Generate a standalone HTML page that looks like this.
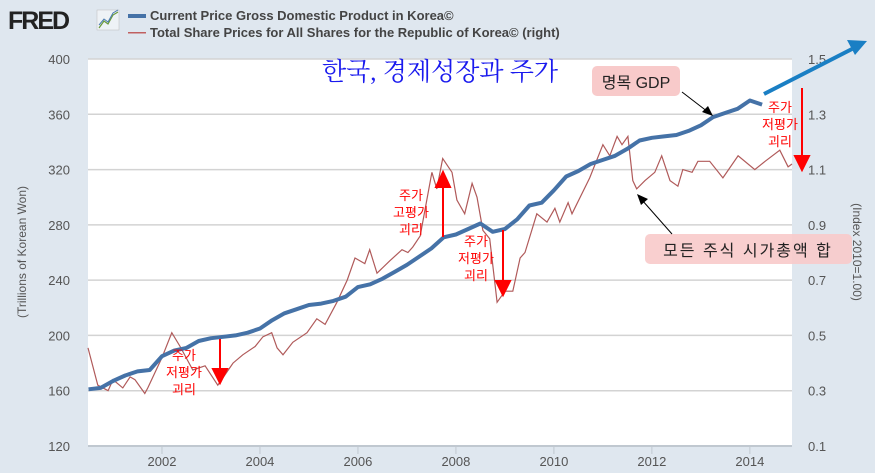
<!DOCTYPE html>
<html><head><meta charset="utf-8">
<style>
body{margin:0;background:#dfe7ef;}
svg{display:block;font-family:"Liberation Sans","Noto Sans CJK KR",sans-serif;}
</style></head>
<body>
<svg id="c" width="875" height="473" viewBox="0 0 875 473">
<rect x="0" y="0" width="875" height="473" fill="#dfe7ef"/>
<rect x="88" y="59" width="704" height="387" fill="#ffffff"/>
<g>
<text x="8" y="29" font-size="25" font-weight="bold" fill="#222" letter-spacing="-2" font-family="Liberation Sans,sans-serif">FRED</text>
<rect x="97" y="10" width="22" height="20" fill="#eef2f6" stroke="#bbb" stroke-width="0.5"/>
<polyline points="99,28 104,21 108,24 113,15 118,12" fill="none" stroke="#6a9a3a" stroke-width="1.2"/>
<polyline points="99,25 104,19 108,22 113,13 118,10" fill="none" stroke="#4a7ab0" stroke-width="1"/>
</g>
<g>
<rect x="128" y="14" width="18" height="4" fill="#4572a7"/>
<text x="150" y="20" font-size="13" font-weight="bold" fill="#444">Current Price Gross Domestic Product in Korea©</text>
<rect x="128" y="32" width="18" height="1.5" fill="#c06060"/>
<text x="150" y="37" font-size="13" font-weight="bold" fill="#444">Total Share Prices for All Shares for the Republic of Korea© (right)</text>
</g>
<g id="grid"></g>
<g id="axes"></g>
<text transform="translate(26,252) rotate(-90)" text-anchor="middle" font-size="12" fill="#555">(Trillions of Korean Won)</text>
<text transform="translate(853,252) rotate(90)" text-anchor="middle" font-size="12" fill="#555">(Index 2010=1.00)</text>
<g id="series"></g>
<g>
<text x="440" y="80" text-anchor="middle" font-size="25" fill="#1a1aee" font-family="Liberation Serif,'Noto Serif CJK SC',serif">한국, 경제성장과 주가</text>
<rect x="592" y="66" width="88" height="30" rx="5" fill="#f8caca"/>
<text x="636" y="88" text-anchor="middle" font-size="16" fill="#222">명목 GDP</text>
<line x1="682" y1="92" x2="708" y2="112" stroke="#000" stroke-width="1"/>
<polygon points="713,116 702,112 708,106" fill="#000"/>
<rect x="645" y="234" width="207" height="30" rx="5" fill="#f8caca" opacity="0.9"/>
<text x="748" y="256" text-anchor="middle" font-size="16" fill="#222" letter-spacing="2">모든 주식 시가총액 합</text>
<line x1="672" y1="234" x2="642" y2="200" stroke="#000" stroke-width="1"/>
<polygon points="637,194 648,199 641,205" fill="#000"/>
<line x1="764" y1="94" x2="852" y2="49" stroke="#1a7fc4" stroke-width="4"/>
<polygon points="867,41 847,40 855,55" fill="#1a7fc4"/>
<g fill="#ff0000" font-size="13" text-anchor="middle">
<text x="184" y="360">주가</text><text x="184" y="377">저평가</text><text x="184" y="394">괴리</text>
<text x="411" y="200">주가</text><text x="411" y="217">고평가</text><text x="411" y="234">괴리</text>
<text x="476" y="246">주가</text><text x="476" y="263">저평가</text><text x="476" y="280">괴리</text>
<text x="780" y="112">주가</text><text x="780" y="129">저평가</text><text x="780" y="146">괴리</text>
</g>
<g stroke="#ff0000" stroke-width="2" fill="#ff0000">
<line x1="220" y1="339" x2="220" y2="372"/><polygon points="213,369 227,369 220,383"/>
<line x1="443" y1="237" x2="443" y2="185"/><polygon points="436,187 450,187 443,172"/>
<line x1="503" y1="230" x2="503" y2="283"/><polygon points="496,281 510,281 503,295"/>
<line x1="802" y1="88" x2="802" y2="158"/><polygon points="795,156 809,156 802,170"/>
</g>
</g>
</svg>
<script>
const gdpYears=[2000.5,2000.75,2001,2001.25,2001.5,2001.75,2002,2002.25,2002.5,2002.75,2003,2003.25,2003.5,2003.75,2004,2004.25,2004.5,2004.75,2005,2005.25,2005.5,2005.75,2006,2006.25,2006.5,2006.75,2007,2007.25,2007.5,2007.75,2008,2008.25,2008.5,2008.75,2009,2009.25,2009.5,2009.75,2010,2010.25,2010.5,2010.75,2011,2011.25,2011.5,2011.75,2012,2012.25,2012.5,2012.75,2013,2013.25,2013.5,2013.75,2014,2014.25];
const gdpValues=[161,162,167,171,174,175,185,189,191,196,198,199,200,202,205,211,216,219,222,223,225,228,235,237,241,246,251,257,263,271,273,277,281,275,277,284,294,296,305,315,319,324,327,330,335,341,343,344,345,348,352,358,361,364,370,367];
const shareYears=[2000.49,2000.69,2000.9,2001.0,2001.2,2001.35,2001.45,2001.65,2001.71,2002.0,2002.2,2002.37,2002.63,2002.88,2003.14,2003.45,2003.65,2003.9,2004.06,2004.24,2004.35,2004.47,2004.67,2004.96,2005.16,2005.33,2005.57,2005.78,2005.94,2006.14,2006.24,2006.39,2006.65,2006.9,2007.02,2007.12,2007.27,2007.51,2007.61,2007.73,2007.92,2008.02,2008.18,2008.33,2008.43,2008.55,2008.69,2008.84,2009.0,2009.16,2009.31,2009.41,2009.65,2009.86,2010.02,2010.12,2010.29,2010.37,2010.73,2011.0,2011.14,2011.29,2011.39,2011.51,2011.61,2011.69,2011.86,2012.06,2012.2,2012.37,2012.53,2012.63,2012.82,2012.94,2013.18,2013.45,2013.76,2014.1,2014.31,2014.61,2014.78,2014.86];
const shareValues=[0.455,0.32,0.30,0.34,0.31,0.35,0.34,0.29,0.31,0.42,0.51,0.46,0.375,0.39,0.32,0.40,0.43,0.46,0.495,0.51,0.455,0.43,0.475,0.51,0.56,0.54,0.62,0.70,0.78,0.76,0.81,0.725,0.77,0.81,0.80,0.82,0.86,1.09,1.03,1.14,1.09,0.99,0.94,1.05,1.00,0.88,0.85,0.62,0.66,0.66,0.78,0.80,0.94,0.91,0.96,0.91,0.98,0.94,1.07,1.19,1.15,1.22,1.19,1.22,1.06,1.03,1.06,1.09,1.15,1.06,1.04,1.10,1.09,1.13,1.13,1.07,1.15,1.10,1.13,1.17,1.11,1.12];
const leftTicks=[120,160,200,240,280,320,360,400];
const rightTicks=["0.1","0.3","0.5","0.7","0.9","1.1","1.3","1.5"];
const xTicks=[2002,2004,2006,2008,2010,2012,2014];

const X0=88,X1=792,Y0=446,Y1=59,yr0=2000.49,yr1=2014.86;
const xs=y=>X0+(y-yr0)/(yr1-yr0)*(X1-X0);
const yL=v=>Y0-(v-120)/(400-120)*(Y0-Y1);
const yR=v=>Y0-(v-0.1)/(1.5-0.1)*(Y0-Y1);
const NS="http://www.w3.org/2000/svg";
function mk(tag,parent,attrs){const e=document.createElementNS(NS,tag);for(const k in attrs)e.setAttribute(k,attrs[k]);parent.appendChild(e);return e;}
const grid=document.getElementById('grid'),axes=document.getElementById('axes'),series=document.getElementById('series');
leftTicks.forEach((v,i)=>{
  const y=yL(v);
  const g=mk('line',grid,{x1:X0,x2:X1,y1:y,y2:y,stroke:'#d3d3d3','stroke-width':1.5});
  
  
  const t=mk('text',axes,{x:70,y:y+5,'text-anchor':'end','font-size':13,fill:'#555'});
  t.textContent=v;
  
  
  const r=mk('text',axes,{x:808,y:yR(parseFloat(rightTicks[i]))+5,'font-size':13,fill:'#555'});
  r.textContent=rightTicks[i];
  
  
});
const ax=mk('line',axes,{x1:X0,x2:X1,y1:Y0,y2:Y0,stroke:'#c0c8d0','stroke-width':2});


xTicks.forEach(v=>{
  const x=xs(v);
  const tk=mk('line',axes,{x1:x,x2:x,y1:Y0,y2:Y0+8,stroke:'#c0c8d0','stroke-width':1});
  
  
  const t=mk('text',axes,{x:x,y:466,'text-anchor':'middle','font-size':13,fill:'#555'});
  t.textContent=v;
  
  
});
const sp=mk('polyline',series,{points:shareYears.map((y,i)=>xs(y).toFixed(1)+','+yR(shareValues[i]).toFixed(1)).join(' '),fill:'none',stroke:'#b05a5a','stroke-width':1.2});


const gp=mk('polyline',series,{points:gdpYears.map((y,i)=>xs(y).toFixed(1)+','+yL(gdpValues[i]).toFixed(1)).join(' '),fill:'none',stroke:'#4572a7','stroke-width':4,'stroke-linejoin':'round'});


</script>
</body></html>
